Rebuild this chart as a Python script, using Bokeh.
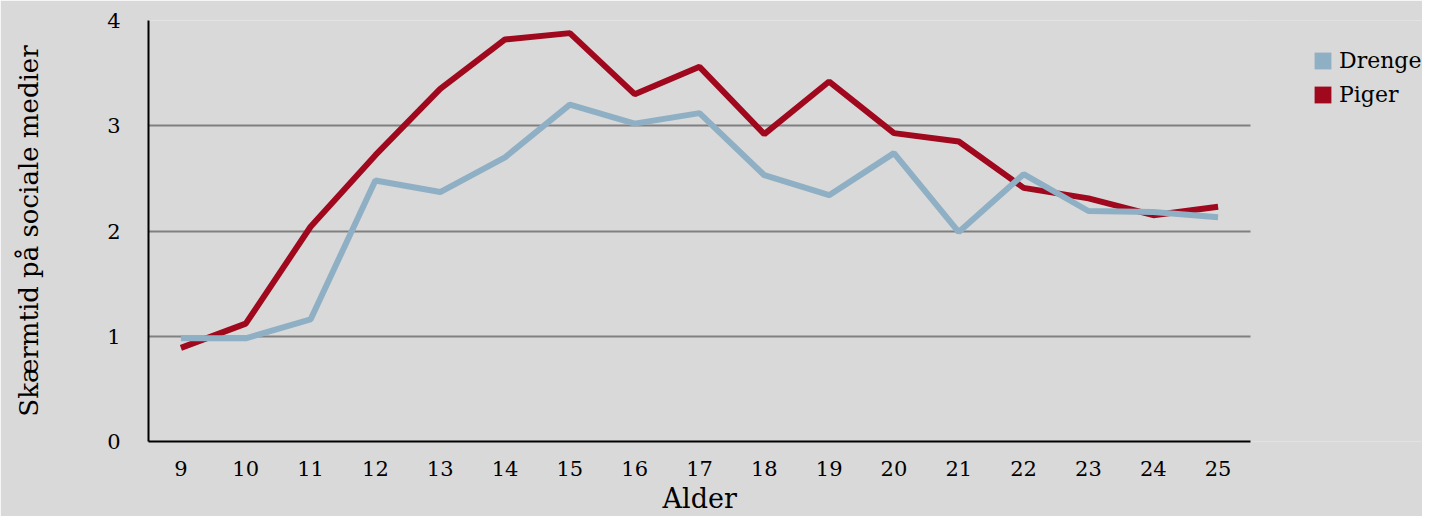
from bokeh.plotting import figure
from bokeh.models import (Legend, LegendItem, FixedTicker, Range1d, BoxAnnotation, Title)
from bokeh.embed import file_html
from bokeh.resources import INLINE

ages = [str(a) for a in range(9, 26)]
drenge = [0.98, 0.98, 1.16, 2.48, 2.37, 2.70, 3.20, 3.02, 3.12, 2.53, 2.34, 2.74, 1.99, 2.54, 2.19, 2.18, 2.13]
piger = [0.89, 1.12, 2.04, 2.72, 3.35, 3.82, 3.88, 3.30, 3.56, 2.92, 3.42, 2.93, 2.85, 2.41, 2.31, 2.15, 2.23]
y_ticks = [0, 1, 2, 3, 4]

BG = "#d9d9d9"
BLUE = "#8fb0c4"
RED = "#a0081e"
FONT = "DejaVu Serif"

# layout (pixels)
W, H = 1422, 516
LEFT, TOP, BOTTOM = 148, 20, 75
PLOT_W = 1102                      # width of the category area
EXTRA = W - LEFT - PLOT_W          # room on the right for the legend

n = len(ages)
xs = list(range(n))
unit = PLOT_W / n
x_lo, x_hi = -0.5, n - 0.5

p = figure(x_range=Range1d(x_lo, x_hi + EXTRA / unit), y_range=(0, 4),
           width=W, height=H, output_backend="svg", toolbar_location=None,
           min_border_left=LEFT, min_border_right=0, min_border_top=TOP,
           min_border_bottom=BOTTOM)
p.background_fill_color = BG
p.border_fill_color = BG
p.outline_line_color = None

p.xgrid.grid_line_color = None
p.ygrid.grid_line_color = "#808080"
p.ygrid.grid_line_width = 2
p.ygrid.ticker = FixedTicker(ticks=y_ticks)
p.yaxis.ticker = FixedTicker(ticks=y_ticks)

p.line(xs, piger, line_color=RED, line_width=6)
p.line(xs, drenge, line_color=BLUE, line_width=6)

# hide grid lines beyond the category area (legend room)
p.add_layout(BoxAnnotation(left=x_hi, fill_color=BG, fill_alpha=1.0, line_color=None,
                           level="underlay"))

# legend swatches (not drawn in the plot: y is NaN)
nan = float("nan")
r_d = p.rect(x=[0], y=[nan], width=0.1, height=0.1, fill_color=BLUE, line_color=None)
r_p = p.rect(x=[0], y=[nan], width=0.1, height=0.1, fill_color=RED, line_color=None)
legend = Legend(items=[LegendItem(label="Drenge", renderers=[r_d]),
                       LegendItem(label="Piger", renderers=[r_p])],
                location=(1164, 330), orientation="vertical",
                background_fill_alpha=0, border_line_color=None,
                label_text_font=FONT, label_text_font_size="22px",
                label_text_color="black", label_height=34,
                glyph_width=21, glyph_height=21, spacing=0, label_standoff=6,
                padding=0, margin=0)
p.add_layout(legend, "center")

p.xaxis.ticker = FixedTicker(ticks=xs)
p.xaxis.major_label_overrides = {i: a for i, a in zip(xs, ages)}
p.xaxis.bounds = (x_lo, x_hi)

for ax in (p.xaxis, p.yaxis):
    ax.axis_line_color = "black"
    ax.axis_line_width = 2
    ax.major_tick_line_color = None
    ax.minor_tick_line_color = None
    ax.major_label_text_font = FONT
    ax.major_label_text_font_size = "21px"
    ax.major_label_text_color = "black"
    ax.axis_label_text_font = FONT
    ax.axis_label_text_font_size = "26px"
    ax.axis_label_text_font_style = "normal"
    ax.axis_label_text_color = "black"

p.yaxis.axis_label = "Skærmtid på sociale medier"
p.xaxis.major_label_standoff = 13
p.yaxis.major_label_standoff = 22
p.yaxis.axis_label_standoff = 60

# x-axis title, centred under the category area
p.add_layout(Title(text="Alder", align="left", offset=PLOT_W / 2 - 37,
                   text_font=FONT, text_font_size="27px", text_font_style="normal",
                   text_color="black", standoff=4), "below")

html = file_html(p, INLINE)
open("out.html", "w").write(html)
